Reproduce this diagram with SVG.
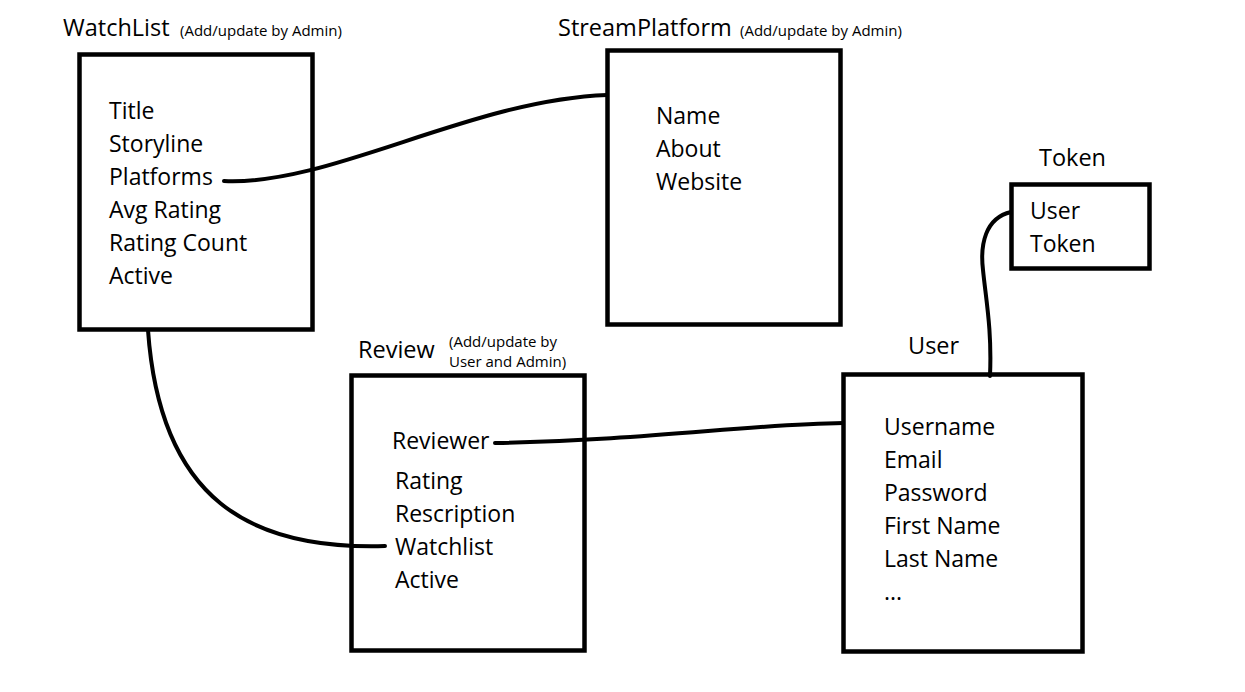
<svg xmlns="http://www.w3.org/2000/svg" width="1245" height="692" viewBox="0 0 1245 692">
<style>
.box{fill:none;stroke:#000;stroke-width:4.5}
.conn{fill:none;stroke:#000;stroke-width:4;stroke-linecap:round}
.t{font-family:"Open Sans","Noto Sans",sans-serif;font-size:23.5px;fill:#000}
.s{font-family:"Open Sans","Noto Sans",sans-serif;font-size:15px;fill:#000}
.i{font-family:"Open Sans","Noto Sans",sans-serif;font-size:23px;fill:#000}
</style>
<rect width="1245" height="692" fill="#fff"/>
<g id="connectors">
<path class="conn" d="M224,181 C330,186 470,100 607,95"/>
<path class="conn" d="M148,330 C160,500 250,550 385,546"/>
<path class="conn" d="M495,443 C650,440 750,424 843,423"/>
<path class="conn" d="M1011,212 C985,218 980,245 983,270 C986,300 992,330 990,376"/>
</g>
<g id="watchlist">
<text class="t" x="63" y="36">WatchList</text>
<text class="s" x="180" y="36">(Add/update by Admin)</text>
<rect class="box" x="79.5" y="54.5" width="233" height="275"/>
<text class="i" x="109" y="119">Title</text>
<text class="i" x="109" y="152">Storyline</text>
<text class="i" x="109" y="185">Platforms</text>
<text class="i" x="109" y="218">Avg Rating</text>
<text class="i" x="109" y="251">Rating Count</text>
<text class="i" x="109" y="284">Active</text>
</g>
<g id="streamplatform">
<text class="t" x="558" y="36">StreamPlatform</text>
<text class="s" x="740" y="36">(Add/update by Admin)</text>
<rect class="box" x="607.5" y="50.5" width="233" height="274"/>
<text class="i" x="656" y="124">Name</text>
<text class="i" x="656" y="157">About</text>
<text class="i" x="656" y="190">Website</text>
</g>
<g id="token">
<text class="t" x="1039" y="166">Token</text>
<rect class="box" x="1011.5" y="184.5" width="138" height="84"/>
<text class="i" x="1030" y="219">User</text>
<text class="i" x="1030" y="252">Token</text>
</g>
<g id="review">
<text class="t" x="358" y="358">Review</text>
<text class="s" x="449" y="347">(Add/update by</text>
<text class="s" x="449" y="367">User and Admin)</text>
<rect class="box" x="351.5" y="375.5" width="233" height="275"/>
<text class="i" x="392" y="449">Reviewer</text>
<text class="i" x="395" y="489">Rating</text>
<text class="i" x="395" y="522">Rescription</text>
<text class="i" x="395" y="555">Watchlist</text>
<text class="i" x="395" y="588">Active</text>
</g>
<g id="user">
<text class="t" x="908" y="354">User</text>
<rect class="box" x="843.5" y="374.5" width="239" height="277"/>
<text class="i" x="884" y="435">Username</text>
<text class="i" x="884" y="468">Email</text>
<text class="i" x="884" y="501">Password</text>
<text class="i" x="884" y="534">First Name</text>
<text class="i" x="884" y="567">Last Name</text>
<text class="i" x="884" y="600">...</text>
</g>
</svg>
